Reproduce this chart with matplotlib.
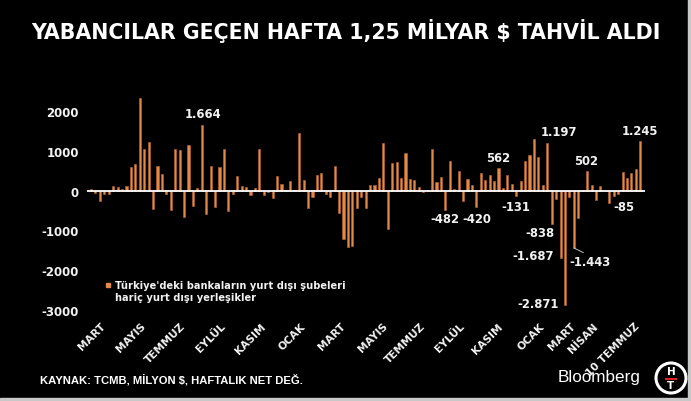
import matplotlib
matplotlib.use("Agg")
import matplotlib.pyplot as plt
from matplotlib.patches import Rectangle, Circle

# ---------------- data ----------------
values = [30, -60, -270, -75, -95, 125, 80, 35, 120, 605,
          675, 2340, 1055, 1220, -465, 630, 425, -85, -490, 1050,
          1015, -665, 1160, -395, 75, 1664, -590, 615, -405, 590,
          1060, -515, -95, 360, 125, 80, -115, 70, 1060, -115,
          -30, -180, 370, 170, 5, 240, 15, 1460, 280, -445,
          -165, 395, 455, -90, -170, 620, -570, -1215, -1410, -1395,
          -440, -155, -440, 150, 130, 310, 1190, -970, 708, 725,
          318, 940, 285, 270, 95, -45, 5, 1040, 215, 355,
          -482, 750, 35, 490, -250, 300, 145, -420, 450, 280,
          400, 237, 562, 60, 398, 170, -131, 237, 754, 907,
          1297, 839, 144, 1197, -838, -200, -1687, -2871, -170, -1443,
          -700, 20, 502, 152, -233, 105, 0, -320, -140, -85,
          480, 327, 437, 555, 1245]

month_labels = ["MART", "MAYIS", "TEMMUZ", "EYLÜL", "KASIM", "OCAK",
                "MART", "MAYIS", "TEMMUZ", "EYLÜL", "KASIM", "OCAK",
                "MART", "NİSAN", "10 TEMMUZ"]
month_pos = [3, 12, 21, 30, 39, 48, 57, 66.5, 75, 84, 92.5, 102, 109, 114, 123.5]

yticks = [-3000, -2000, -1000, 0, 1000, 2000]
labelled_bars = [25, 80, 87, 92, 96, 103, 104, 106, 107, 109, 112, 119, 124]

title = "YABANCILAR GEÇEN HAFTA 1,25 MİLYAR \\$ TAHVİL ALDI"
source = "KAYNAK: TCMB, MİLYON \\$, HAFTALIK NET DEĞ."
legend_label = "Türkiye'deki bankaların yurt dışı şubeleri\nhariç yurt dışı yerleşikler"

# ---------------- style ----------------
BAR = "#E38A4A"
EDGE = "#B9662F"
TXT = "#F2F2F2"
W, H = 691, 402

fig = plt.figure(figsize=(W / 100, H / 100), dpi=100, facecolor="black")

ax = fig.add_axes([86.6 / W, (H - 314.7) / H, (644.7 - 86.6) / W, (314.7 - 96.4) / H])
ax.set_facecolor("black")
x = list(range(len(values)))
ax.bar(x, values, width=0.47, color=BAR, edgecolor=EDGE, linewidth=0.4, zorder=2)
ax.axhline(0, color="white", lw=1.3, zorder=3)
ax.set_xlim(-1, len(values))
ax.set_ylim(-3100, 2400)
for s in ax.spines.values():
    s.set_visible(False)

ax.set_yticks(yticks)
ax.set_yticklabels([str(v) for v in yticks], fontsize=8.5, fontweight="bold", color=TXT)
ax.tick_params(axis="y", length=0, pad=5.5)

ax.set_xticks(month_pos)
ax.set_xticklabels(month_labels, fontsize=7.7, fontweight="bold", color=TXT,
                   rotation=45, ha="right", va="center", rotation_mode="anchor")
ax.tick_params(axis="x", length=0, pad=7.5)

# bar value labels (offsets in pixels: dx right, dy down)
offsets = {25: (1, -11), 80: (-1, 9), 87: (0, 11), 92: (0, -11), 96: (0, 11),
           103: (12, -11.5), 104: (-12, 9), 106: (-27, -2), 107: (-27, -1),
           109: (16, 14), 112: (-1, -10), 119: (6, 12), 124: (0, -11)}
for i in labelled_bars:
    v = values[i]
    txt = f"{v:,}".replace(",", ".")
    dx, dy = offsets[i]
    kw = {}
    if i == 109:
        kw["arrowprops"] = dict(arrowstyle="-", color="#BFBFBF", lw=0.7,
                                shrinkA=0, shrinkB=0, relpos=(0.48, 1.0))
    ax.annotate(txt, xy=(i, v), xytext=(dx * 0.72, -dy * 0.72),
                textcoords="offset points", ha="center", va="center",
                fontsize=8.4, fontweight="bold", color=TXT, zorder=4, **kw)

# ---------------- decorations in pixel coords ----------------
deco = fig.add_axes([0, 0, 1, 1], facecolor="none")
deco.set_xlim(0, W)
deco.set_ylim(H, 0)
deco.axis("off")

deco.text(346, 31, title, ha="center", va="center", fontsize=14.8,
          fontweight="bold", color="white")

deco.add_patch(Rectangle((106, 284), 4, 4, color=BAR))
deco.text(115, 292, legend_label, ha="left", va="center", fontsize=7.1,
          fontweight="bold", color=TXT, linespacing=1.2)

deco.text(40, 380, source, ha="left", va="center", fontsize=8.1,
          fontweight="bold", color="white", family="Liberation Sans")

deco.text(599, 378, "Bloomberg", ha="center", va="center", fontsize=12.3,
          color="white", family="Liberation Sans")

# HT logo
deco.add_patch(Circle((671, 379), 15, facecolor="black", edgecolor="white", lw=2.2))
deco.text(671, 372.5, "H", ha="center", va="center", fontsize=7.5,
          fontweight="bold", color="white")
deco.text(671, 386.5, "T", ha="center", va="center", fontsize=7.5,
          fontweight="bold", color="white")
deco.plot([666, 676], [379.5, 379.5], color="#E0202A", lw=1.5)

# frame strips
deco.add_patch(Rectangle((0, 398.5), W, 4, color="#C8C8C8"))
deco.add_patch(Rectangle((688.5, 0), 3, H, color="#C8C8C8"))

fig.savefig("out.png", dpi=100, facecolor="black")
